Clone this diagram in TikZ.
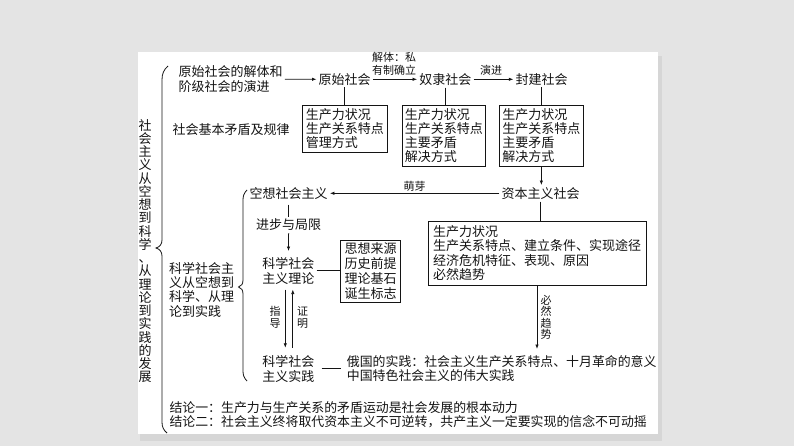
\documentclass[tikz,border=0pt]{standalone}
\usepackage{fontspec}
\setmainfont{Noto Sans CJK SC}
\usetikzlibrary{arrows.meta}
\definecolor{bggray}{RGB}{228,228,228}
\definecolor{shadowgray}{RGB}{214,214,214}
\definecolor{ink}{RGB}{20,20,20}
\tikzset{
  txt/.style={inner sep=2pt, text=ink, font=\fontsize{13}{14.4}\selectfont, align=left},
  lbl/.style={inner sep=0pt, text=ink, font=\fontsize{11}{12.7}\selectfont, align=center},
  vtxt/.style={inner sep=0pt, text=ink, align=center},
  boxnode/.style={draw=ink, line width=0.8pt, inner ysep=0pt, text=ink, align=left,
                  font=\fontsize{13}{14.2}\selectfont},
  ln/.style={draw=ink, line width=0.75pt},
  arr/.style={draw=ink, line width=0.75pt, -{Latex[length=4.5pt,width=3.4pt]}},
  bracepath/.style={draw=ink, line width=0.8pt}
}
\begin{document}
\begin{tikzpicture}[x=1pt,y=-1pt]
% background
\path[use as bounding box, fill=bggray] (0,0) rectangle (794,446);
\fill[shadowgray] (140,434) rectangle (662,441);
\fill[shadowgray] (658,56) rectangle (662,441);
\fill[white] (138,52) rectangle (658,434);

% vertical title
\node[vtxt, font=\fontsize{13}{13.25}\selectfont] (title) at (145,251)
  {社\\会\\主\\义\\从\\空\\想\\到\\科\\学\\、\\从\\理\\论\\到\\实\\践\\的\\发\\展};

% big brace
\draw[bracepath] (168,66) .. controls (163.5,70) and (162,74) .. (162,80)
  -- (162,240) .. controls (162,244.5) and (159.5,247) .. (156,248)
  .. controls (159.5,249) and (162,251.5) .. (162,256)
  -- (162,422) .. controls (162,427) and (163.5,430) .. (167,433);

% top row
\node[txt, anchor=west] (n1) at (176.5,79.2) {原始社会的解体和\\阶级社会的演进};
\node[txt] (yuanshi) at (344.7,79.3) {原始社会};
\node[txt] (nuli) at (445.3,79.3) {奴隶社会};
\node[txt] (fengjian) at (541.5,79.3) {封建社会};
\node[lbl] (l1) at (394,63.6) {解体：私\\有制确立};
\node[lbl] (l2) at (491,70) {演进};

\draw[arr] (n1) -- (yuanshi);
\draw[arr] (yuanshi) -- (nuli);
\draw[arr] (nuli) -- (fengjian);

\node[txt, anchor=west] (jiben) at (170.5,129.8) {社会基本矛盾及规律};

\node[boxnode, text width=78pt, inner xsep=3.1pt, minimum height=47pt] (b1) at (344.8,128.75)
  {生产力状况\\生产关系特点\\管理方式};
\node[boxnode, text width=78pt, inner xsep=2.85pt, minimum height=60.9pt] (b2) at (443.95,135.75)
  {生产力状况\\生产关系特点\\主要矛盾\\解决方式};
\node[boxnode, text width=78pt, inner xsep=2.85pt, minimum height=60.9pt] (b3) at (541.35,135.75)
  {生产力状况\\生产关系特点\\主要矛盾\\解决方式};

\draw[ln] (yuanshi.south) -- (yuanshi.south |- b1.north);
\draw[ln] (nuli.south) -- (nuli.south |- b2.north);
\draw[ln] (fengjian.south) -- (fengjian.south |- b3.north);

% capitalism
\node[txt] (ziben) at (540.5,193.3) {资本主义社会};
\draw[arr] (b3.south) -- (b3.south |- ziben.north);
\node[txt] (kongxiang) at (288.7,193.3) {空想社会主义};
\draw[arr] (ziben) -- (kongxiang);
\node[lbl] (l3) at (414.7,186.3) {萌芽};

\node[boxnode, text width=208pt, inner xsep=5pt, minimum height=64pt] (b4) at (537,253)
  {生产力状况\\生产关系特点、建立条件、实现途径\\经济危机特征、表现、原因\\必然趋势};
\draw[ln] (ziben.south) -- (ziben.south |- b4.north);
\coordinate (bieEnd) at (537,349);
\draw[arr] (b4.south) -- (bieEnd);
\node[vtxt, font=\fontsize{11}{11.5}\selectfont] (l4) at (546,317.3) {必\\然\\趋\\势};

% small brace
\draw[bracepath] (247,190) .. controls (244,193) and (243,196) .. (243,200)
  -- (243,280) .. controls (243,284) and (241.5,286) .. (238.5,287)
  .. controls (241.5,288) and (243,290) .. (243,294)
  -- (243,371) .. controls (243,375) and (244,378) .. (247,381);

\node[txt, anchor=west] (kexue) at (167,289.7) {科学社会主\\义从空想到\\科学、从理\\论到实践};

% scientific socialism
\node[txt] (jinbu) at (288.7,225) {进步与局限};
\draw[ln, shorten <=3pt] (kongxiang) -- (jinbu);
\node[txt, font=\fontsize{13}{15}\selectfont] (lilun) at (288.3,270.8) {科学社会\\主义理论};
\draw[arr, shorten >=4pt] (jinbu) -- (lilun);
\node[boxnode, text width=52pt, inner xsep=3.9pt, minimum height=62.7pt,
      font=\fontsize{13}{15}\selectfont] (b5) at (370.7,271.35)
  {思想来源\\历史前提\\理论基石\\诞生标志};
\draw[ln] (lilun.east) -- (lilun.east -| b5.west);

\node[txt, font=\fontsize{13}{15}\selectfont] (shijian) at (288.3,368.5) {科学社会\\主义实践};
\draw[arr, shorten <=3pt, shorten >=5pt] ([xshift=-3pt]lilun.south) -- ([xshift=-3pt]lilun.south |- shijian.north);
\draw[arr, shorten <=5pt, shorten >=3pt] ([xshift=4.5pt]lilun.south |- shijian.north) -- ([xshift=4.5pt]lilun.south);
\node[vtxt, font=\fontsize{11}{11.6}\selectfont] (l5) at (275,317.5) {指\\导};
\node[vtxt, font=\fontsize{11}{11.6}\selectfont] (l6) at (302.7,317.5) {证\\明};

\node[txt, anchor=west, font=\fontsize{12.9}{14.3}\selectfont] (russia) at (344.7,368.8)
  {俄国的实践：社会主义生产关系特点、十月革命的意义\\中国特色社会主义的伟大实践};
\draw[ln, shorten <=5pt, shorten >=4pt] (shijian.east) -- (shijian.east -| russia.west);

% conclusions
\node[txt, anchor=west, font=\fontsize{12.9}{14}\selectfont] (c1) at (167.3,407.3)
  {结论一：生产力与生产关系的矛盾运动是社会发展的根本动力};
\node[txt, anchor=west, font=\fontsize{12.9}{14}\selectfont] (c2) at (167.3,421.7)
  {结论二：社会主义终将取代资本主义不可逆转，共产主义一定要实现的信念不可动摇};
\end{tikzpicture}
\end{document}
